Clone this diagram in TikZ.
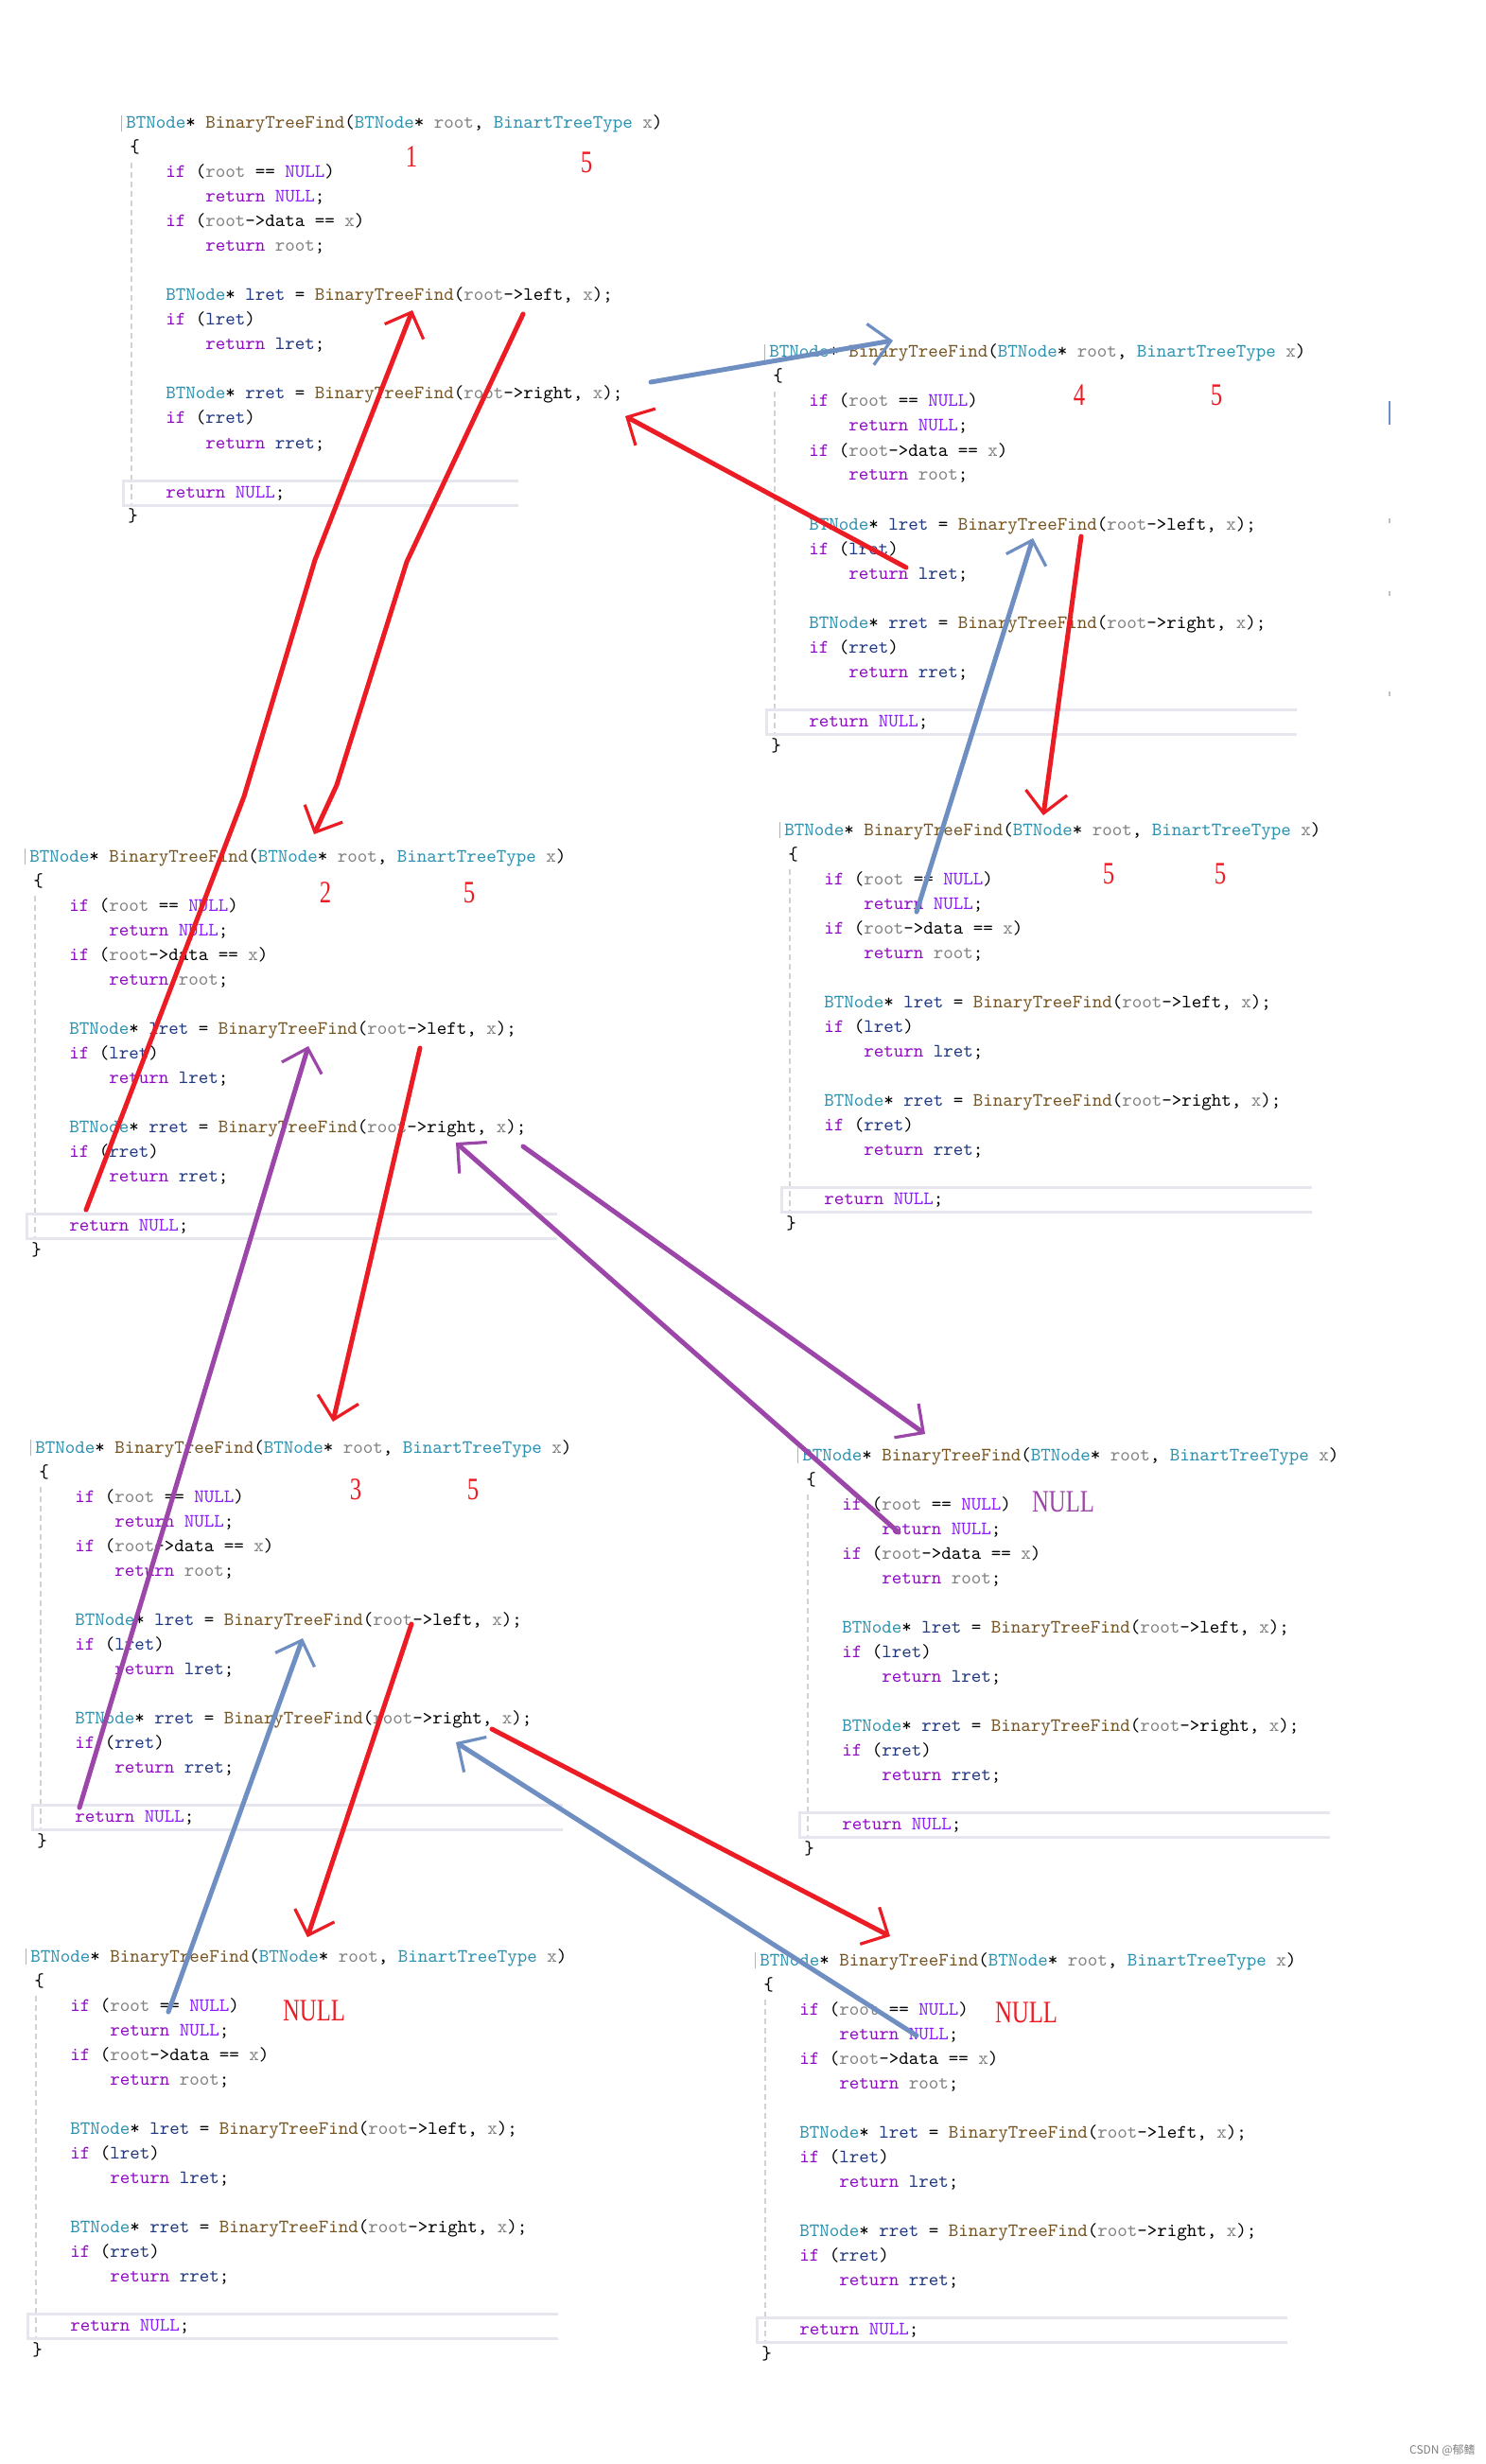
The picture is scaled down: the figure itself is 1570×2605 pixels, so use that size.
\documentclass[tikz,border=0pt]{standalone}
\usepackage{fontspec}
\newfontfamily\penfont{Liberation Serif}[FakeStretch=0.75]
\newfontfamily\cjkfont{Noto Sans CJK SC}
\usetikzlibrary{arrows.meta}

\definecolor{typecol}{HTML}{2B91AF}
\definecolor{funcol}{HTML}{74531F}
\definecolor{parcol}{HTML}{808080}
\definecolor{kwcol}{HTML}{8F08C4}
\definecolor{nullcol}{HTML}{8A1BFF}
\definecolor{varcol}{HTML}{1F377F}
\definecolor{penred}{HTML}{EC1C24}
\definecolor{penblue}{HTML}{6F8FC2}
\definecolor{penpurple}{HTML}{9B46A8}
\definecolor{boxgray}{HTML}{E6E6EE}

\newcommand\cty[1]{\textcolor{typecol}{#1}}
\newcommand\cfn[1]{\textcolor{funcol}{#1}}
\newcommand\cpa[1]{\textcolor{parcol}{#1}}
\newcommand\ckw[1]{\textcolor{kwcol}{#1}}
\newcommand\cnl[1]{\textcolor{nullcol}{#1}}
\newcommand\cva[1]{\textcolor{varcol}{#1}}

% one copy of the function: name, x, y (header baseline), width of last-line box
\newcommand\codeblock[4]{%
  \begin{scope}[shift={(#2,#3)}]
    \draw[guide] (6,36) -- (6,400);
    \draw[hlbox] (#4,372) -- (-3,372) -- (-3,398) -- (#4,398);
    \draw[gray!60, line width=0.5pt] (-5,-14) -- (-5,3);
    \node[codeline] (#1-0) at (0,0) {\cty{BTNode}* \cfn{BinaryTreeFind}(\cty{BTNode}* \cpa{root}, \cty{BinartTreeType} \cpa{x})};
    \node[codeline] (#1-1) at (4,26) {\{};
    \node[codeline] (#1-2) at (42,52) {\ckw{if} (\cpa{root} == \cnl{NULL})};
    \node[codeline] (#1-3) at (84,78) {\ckw{return} \cnl{NULL};};
    \node[codeline] (#1-4) at (42,104) {\ckw{if} (\cpa{root}->data == \cpa{x})};
    \node[codeline] (#1-5) at (84,130) {\ckw{return} \cpa{root};};
    \node[codeline] (#1-7) at (42,182) {\cty{BTNode}* \cva{lret} = \cfn{BinaryTreeFind}(\cpa{root}->left, \cpa{x});};
    \node[codeline] (#1-8) at (42,208) {\ckw{if} (\cva{lret})};
    \node[codeline] (#1-9) at (84,234) {\ckw{return} \cva{lret};};
    \node[codeline] (#1-11) at (42,286) {\cty{BTNode}* \cva{rret} = \cfn{BinaryTreeFind}(\cpa{root}->right, \cpa{x});};
    \node[codeline] (#1-12) at (42,312) {\ckw{if} (\cva{rret})};
    \node[codeline] (#1-13) at (84,338) {\ckw{return} \cva{rret};};
    \node[codeline] (#1-15) at (42,390) {\ckw{return} \cnl{NULL};};
    \node[codeline] (#1-16) at (2,416) {\}};
  \end{scope}}

\begin{document}
\begin{tikzpicture}[x=0.5pt, y=-0.5pt,
    codeline/.style={anchor=base west, inner sep=0pt, font=\ttfamily\fontsize{10}{12}\selectfont},
    guide/.style={draw=gray!35, line width=0.6pt, dash pattern=on 3pt off 2pt},
    hlbox/.style={draw=boxgray, line width=1.5pt},
    numlabel/.style={inner sep=0pt, text=penred, font=\penfont\fontsize{16.5}{18}\selectfont},
    penbase/.style={line width=2.5pt, line cap=round, line join=round,
      -{Straight Barb[length=11pt, width=22pt, line width=1.6pt]}},
    redpen/.style={penbase, draw=penred},
    bluepen/.style={penbase, draw=penblue},
    purplepen/.style={penbase, draw=penpurple}
]
\fill[white] (0,0) rectangle (1570,2605);
\useasboundingbox (0,0) rectangle (1570,2605);

% the seven calls
\codeblock{A}{133}{136}{415}
\codeblock{B}{813}{378}{558}
\codeblock{C}{31}{911}{558}
\codeblock{D}{829}{883}{558}
\codeblock{E}{37}{1536}{558}
\codeblock{F}{848}{1544}{558}
\codeblock{G}{32}{2074}{558}
\codeblock{H}{803}{2078}{558}

% screen marks on the right of B
\draw[penblue, line width=1pt] (1469,424) -- (1469,449);
\foreach \ty in {548,625,731} \draw[gray!50, line width=0.8pt] (1469,\ty) -- (1469,\ty+5);

% depth and x labels
\node[numlabel] (lA1) at (435,166) {1};
\node[numlabel] (lA2) at (620,172) {5};
\node[numlabel] (lB1) at (1141,418) {4};
\node[numlabel] (lB2) at (1286,418) {5};
\node[numlabel] (lC1) at (344,944) {2};
\node[numlabel] (lC2) at (496,944) {5};
\node[numlabel] (lD1) at (1172,924) {5};
\node[numlabel] (lD2) at (1290,924) {5};
\node[numlabel] (lE1) at (376,1575) {3};
\node[numlabel] (lE2) at (500,1575) {5};
\node[numlabel, text=penpurple] (lF) at (1124,1588) {NULL};
\node[numlabel] (lG) at (332,2126) {NULL};
\node[numlabel] (lH) at (1085,2128) {NULL};

% pen stroke ends
\coordinate (r1s) at (91,1279);  \coordinate (r1a) at (258,842);
\coordinate (r1b) at (333,592);  \coordinate (r1e) at (436,328);
\coordinate (r2s) at (553,332);  \coordinate (r2a) at (430,594);
\coordinate (r2b) at (356,830);  \coordinate (r2e) at (332,882);
\coordinate (r3s) at (958,600);  \coordinate (r3e) at (661,440);
\coordinate (r4s) at (1143,567); \coordinate (r4e) at (1103,862);
\coordinate (r5s) at (444,1108); \coordinate (r5e) at (352,1503);
\coordinate (r6s) at (435,1717); \coordinate (r6e) at (325,2048);
\coordinate (r7s) at (520,1828); \coordinate (r7e) at (941,2047);
\coordinate (b1s) at (688,404);  \coordinate (b1e) at (944,360);
\coordinate (b2s) at (969,964);  \coordinate (b2e) at (1092,569);
\coordinate (b3s) at (178,2127); \coordinate (b3e) at (320,1732);
\coordinate (b4s) at (969,2152); \coordinate (b4e) at (482,1842);
\coordinate (p1s) at (84,1911);  \coordinate (p1e) at (326,1106);
\coordinate (p2s) at (553,1212); \coordinate (p2e) at (978,1516);
\coordinate (p3s) at (950,1620); \coordinate (p3e) at (482,1208);

% calls (red)
\draw[redpen] (r1s) -- (r1a) -- (r1b) -- (r1e);
\draw[redpen] (r2s) -- (r2a) -- (r2b) -- (r2e);
\draw[redpen] (r3s) -- (r3e);
\draw[redpen] (r4s) -- (r4e);
\draw[redpen] (r5s) -- (r5e);
\draw[redpen] (r6s) -- (r6e);
\draw[redpen] (r7s) -- (r7e);

% returns (blue)
\draw[bluepen] (b1s) -- (b1e);
\draw[bluepen] (b2s) -- (b2e);
\draw[bluepen] (b3s) -- (b3e);
\draw[bluepen] (b4s) -- (b4e);

% returns (purple)
\draw[purplepen] (p1s) -- (p1e);
\draw[purplepen] (p2s) -- (p2e);
\draw[purplepen] (p3s) -- (p3e);

\node[anchor=east, inner sep=0pt, text=gray, font=\cjkfont\fontsize{6}{7}\selectfont] (mark) at (1560,2590) {CSDN @郁鳍};
\end{tikzpicture}
\end{document}
